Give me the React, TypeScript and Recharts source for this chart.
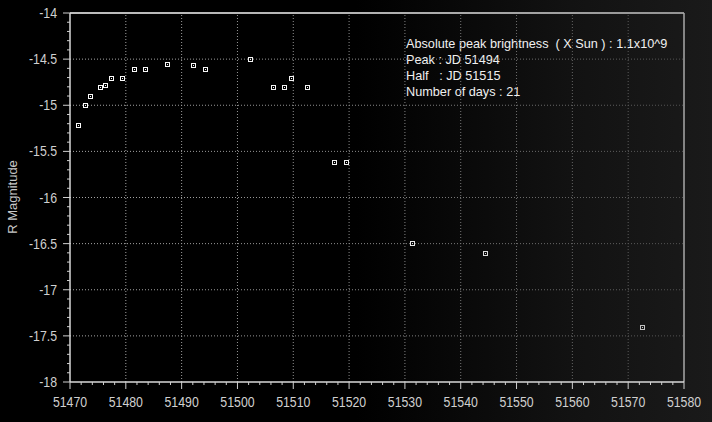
import React from 'react';
import { ScatterChart, Scatter, XAxis, YAxis, ReferenceLine, Label } from 'recharts';

const julianDays = [51471.5, 51472.6, 51473.6, 51475.4, 51476.3, 51477.4, 51479.4, 51481.5, 51483.5, 51487.4, 51492.1, 51494.2, 51502.3, 51506.4, 51508.4, 51509.6, 51512.5, 51517.3, 51519.4, 51531.3, 51544.3, 51572.5];
const rMagnitudes = [-15.21, -15.0, -14.9, -14.8, -14.78, -14.71, -14.71, -14.61, -14.61, -14.556, -14.567, -14.61, -14.5, -14.8, -14.8, -14.71, -14.8, -15.61, -15.61, -16.49, -16.6, -17.4];
const xMajorTicks = [51470, 51480, 51490, 51500, 51510, 51520, 51530, 51540, 51550, 51560, 51570, 51580];
const yMajorTicks = [-18, -17.5, -17, -16.5, -16, -15.5, -15, -14.5, -14];
const infoLines = [
  'Absolute peak brightness  ( X Sun ) : 1.1x10^9',
  'Peak : JD 51494',
  'Half   : JD 51515',
  'Number of days : 21',
];

const data = julianDays.map((jd, i) => ({ jd, mag: rMagnitudes[i] }));

const xAllTicks: number[] = [];
for (let i = 0; i < xMajorTicks.length - 1; i++) {
  for (let k = 0; k < 5; k++) xAllTicks.push(xMajorTicks[i] + k * 2);
}
xAllTicks.push(xMajorTicks[xMajorTicks.length - 1]);

const yAllTicks: number[] = [];
for (let i = 0; i < yMajorTicks.length - 1; i++) {
  for (let k = 0; k < 5; k++) yAllTicks.push(Math.round((yMajorTicks[i] + k * 0.1) * 10) / 10);
}
yAllTicks.push(yMajorTicks[yMajorTicks.length - 1]);

const TICK_FONT = '"Liberation Sans", Arial, sans-serif';
const NARROW = 0.88;

const XTick = (props: any) => {
  const { x, y, payload } = props;
  const v = payload.value;
  const major = xMajorTicks.includes(v);
  return (
    <g>
      <line x1={x} x2={x} y1={y} y2={y + (major ? 7 : 3)} stroke="#cfcfcf" strokeWidth={1} />
      {major && (
        <text
          transform={`translate(${x} ${y + 25}) scale(${NARROW} 1)`}
          x={0}
          y={0}
          textAnchor="middle"
          fill="#d0d0d0"
          fontSize={14}
          fontFamily={TICK_FONT}
        >
          {v}
        </text>
      )}
    </g>
  );
};

const YTick = (props: any) => {
  const { x, y, payload } = props;
  const v = payload.value;
  const major = Math.abs(v * 2 - Math.round(v * 2)) < 1e-6;
  return (
    <g>
      <line x1={x - (major ? 7 : 3)} x2={x} y1={y} y2={y} stroke="#cfcfcf" strokeWidth={1} />
      {major && (
        <text
          transform={`translate(${x - 13} ${y}) scale(${NARROW} 1)`}
          x={0}
          y={0}
          dy="0.36em"
          textAnchor="end"
          fill="#d0d0d0"
          fontSize={14}
          fontFamily={TICK_FONT}
        >
          {v}
        </text>
      )}
    </g>
  );
};

const Marker = (props: any) => {
  const { cx, cy } = props;
  if (cx == null || cy == null) return null;
  const x = Math.round(cx) + 0.5;
  const y = Math.round(cy) + 0.5;
  return (
    <g>
      <rect x={x - 2} y={y - 2} width={4} height={4} fill="none" stroke="url(#markGrad)" strokeWidth={1} />
      <rect x={x - 0.5} y={y - 0.5} width={1} height={1} fill="url(#markGrad)" />
    </g>
  );
};

export default function App() {
  return (
    <div
      style={{
        position: 'absolute',
        left: 0,
        top: 0,
        width: 712,
        height: 422,
        background: 'linear-gradient(to right, #000 0%, #000 50%, #121212 80%, #1a1a1a 100%)',
      }}
    >
      <ScatterChart width={712} height={422} margin={{ top: 13, right: 28, bottom: 0, left: 0 }}>
        <defs>
          <linearGradient id="gridGrad" gradientUnits="userSpaceOnUse" x1={0} y1={0} x2={712} y2={0}>
            <stop offset="0%" stopColor="#b0b0b0" />
            <stop offset="50%" stopColor="#8a8a8a" />
            <stop offset="100%" stopColor="#4a4a4a" />
          </linearGradient>
          <linearGradient id="markGrad" gradientUnits="userSpaceOnUse" x1={0} y1={0} x2={712} y2={0}>
            <stop offset="0%" stopColor="#ffffff" />
            <stop offset="50%" stopColor="#f0f0f0" />
            <stop offset="100%" stopColor="#b8b8b8" />
          </linearGradient>
        </defs>
        <XAxis
          type="number"
          dataKey="jd"
          domain={[51470, 51580]}
          ticks={xAllTicks}
          interval={0}
          allowDataOverflow
          height={40}
          tickSize={0}
          tickMargin={0}
          tickLine={false}
          axisLine={{ stroke: '#d8d8d8', strokeWidth: 1.5 }}
          tick={<XTick />}
        />
        <YAxis
          type="number"
          dataKey="mag"
          domain={[-18, -14]}
          ticks={yAllTicks}
          interval={0}
          allowDataOverflow
          width={70}
          tickSize={0}
          tickMargin={0}
          tickLine={false}
          axisLine={{ stroke: '#d8d8d8', strokeWidth: 1.5 }}
          tick={<YTick />}
        >
          <Label
            content={() => (
              <text
                x={0}
                y={0}
                transform="translate(17 197) rotate(-90)"
                textAnchor="middle"
                fill="#c8c8c8"
                fontSize={13}
                fontFamily='"Liberation Sans", Arial, sans-serif'
              >
                R Magnitude
              </text>
            )}
          />
        </YAxis>
        {xMajorTicks.slice(1, -1).map((t) => (
          <ReferenceLine key={'vx' + t} x={t} stroke="url(#gridGrad)" strokeDasharray="1 2" strokeWidth={1} />
        ))}
        {yMajorTicks.slice(1, -1).map((t) => (
          <ReferenceLine key={'hy' + t} y={t} stroke="url(#gridGrad)" strokeDasharray="1 2" strokeWidth={1} />
        ))}
        <ReferenceLine y={-14} stroke="url(#markGrad)" strokeWidth={1.5} />
        <ReferenceLine x={51580} stroke="#a8a8a8" strokeWidth={1.5} />
        <Scatter data={data} isAnimationActive={false} shape={<Marker />} />
        <g>
          {infoLines.map((line, i) => (
            <text
              key={i}
              x={406}
              y={48 + i * 16}
              fill="#f0f0f0"
              fontSize={12.7}
              fontFamily='"Liberation Sans", Arial, sans-serif'
              style={{ whiteSpace: 'pre' }}
            >
              {line}
            </text>
          ))}
        </g>
      </ScatterChart>
    </div>
  );
}
